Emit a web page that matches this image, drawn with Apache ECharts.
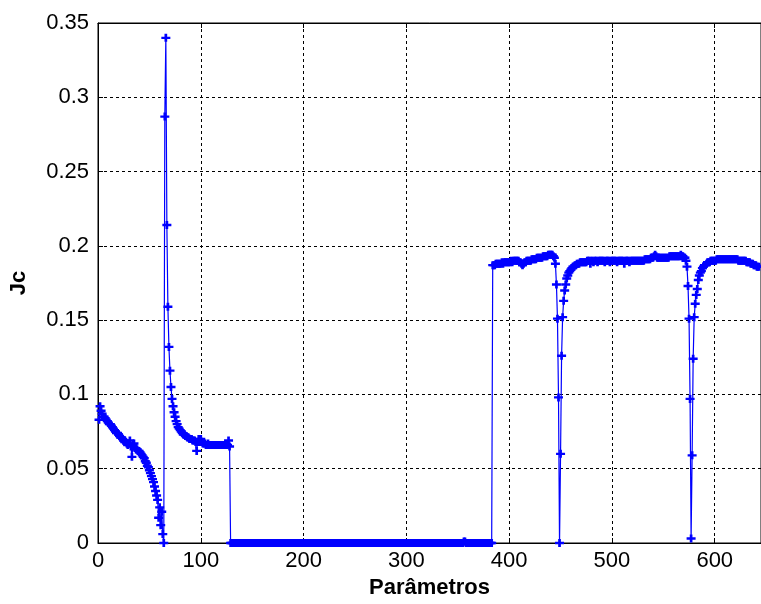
<!DOCTYPE html>
<html>
<head>
<meta charset="utf-8">
<script src="https://cdn.jsdelivr.net/npm/echarts@6/dist/echarts.min.js"></script>
<style>
  html, body { margin: 0; padding: 0; background: #fff; }
  #chart { width: 761px; height: 604px; }
</style>
</head>
<body>
<div id="chart"></div>
<script>
// first parameter index of the series
const xStart = 1;

// x 1..64: slow decay to zero
const jcA = [
  0.083, 0.092, 0.089, 0.087, 0.085, 0.085, 0.084, 0.083, 0.082, 0.081,
  0.080, 0.080, 0.079, 0.078, 0.077, 0.076, 0.075, 0.074, 0.074, 0.073,
  0.072, 0.071, 0.071, 0.070, 0.069, 0.068, 0.068, 0.067, 0.066, 0.067,
  0.069, 0.065, 0.058, 0.066, 0.067, 0.064, 0.063, 0.063, 0.062, 0.062,
  0.061, 0.060, 0.059, 0.058, 0.057, 0.055, 0.054, 0.052, 0.051, 0.049,
  0.047, 0.045, 0.043, 0.041, 0.038, 0.035, 0.032, 0.029, 0.017, 0.024,
  0.012, 0.021, 0.006, 0.000
];

// x 65..129: spike then plateau
const jcB = [
  0.287, 0.340, 0.214, 0.159, 0.132, 0.116, 0.105, 0.097, 0.092, 0.088,
  0.085, 0.082, 0.080, 0.078, 0.077, 0.076, 0.075, 0.074, 0.073, 0.073,
  0.072, 0.072, 0.071, 0.071, 0.070, 0.070, 0.070, 0.069, 0.069, 0.069,
  0.068, 0.062, 0.068, 0.070, 0.068, 0.070, 0.068, 0.067, 0.067, 0.067,
  0.066, 0.066, 0.067, 0.066, 0.066, 0.066, 0.066, 0.066, 0.066, 0.066,
  0.066, 0.066, 0.066, 0.066, 0.066, 0.066, 0.066, 0.066, 0.066, 0.066,
  0.066, 0.066, 0.069, 0.065, 0.000
];

// x 130..383: flat at zero
const jcC = [
  0, 0, 0, 0, 0, 0, 0, 0, 0, 0, 0, 0, 0, 0, 0, 0, 0, 0, 0, 0,
  0, 0, 0, 0, 0, 0, 0, 0, 0, 0, 0, 0, 0, 0, 0, 0, 0, 0, 0, 0,
  0, 0, 0, 0, 0, 0, 0, 0, 0, 0, 0, 0, 0, 0, 0, 0, 0, 0, 0, 0,
  0, 0, 0, 0, 0, 0, 0, 0, 0, 0, 0, 0, 0, 0, 0, 0, 0, 0, 0, 0,
  0, 0, 0, 0, 0, 0, 0, 0, 0, 0, 0, 0, 0, 0, 0, 0, 0, 0, 0, 0,
  0, 0, 0, 0, 0, 0, 0, 0, 0, 0, 0, 0, 0, 0, 0, 0, 0, 0, 0, 0,
  0, 0, 0, 0, 0, 0, 0, 0, 0, 0, 0, 0, 0, 0, 0, 0, 0, 0, 0, 0,
  0, 0, 0, 0, 0, 0, 0, 0, 0, 0, 0, 0, 0, 0, 0, 0, 0, 0, 0, 0,
  0, 0, 0, 0, 0, 0, 0, 0, 0, 0, 0, 0, 0, 0, 0, 0, 0, 0, 0, 0,
  0, 0, 0, 0, 0, 0, 0, 0, 0, 0, 0, 0, 0, 0, 0, 0, 0, 0, 0, 0,
  0, 0, 0, 0, 0, 0, 0, 0, 0, 0, 0, 0, 0, 0, 0, 0, 0, 0, 0, 0,
  0, 0, 0, 0, 0, 0, 0.001, 0.001, 0, 0, 0, 0, 0, 0, 0, 0, 0, 0, 0, 0,
  0, 0, 0, 0, 0, 0, 0, 0, 0, 0, 0, 0, 0, 0
];

// x 384..450: jump up, first dip
const jcD = [
  0.187, 0.187, 0.187, 0.188, 0.188, 0.188, 0.188, 0.188, 0.188, 0.189,
  0.188, 0.189, 0.189, 0.189, 0.189, 0.189, 0.189, 0.189, 0.190, 0.189,
  0.190, 0.190, 0.190, 0.190, 0.190, 0.190, 0.189, 0.189, 0.188, 0.187,
  0.188, 0.189, 0.189, 0.190, 0.190, 0.190, 0.190, 0.190, 0.191, 0.191,
  0.191, 0.191, 0.191, 0.192, 0.192, 0.192, 0.192, 0.192, 0.192, 0.193,
  0.193, 0.193, 0.193, 0.193, 0.194, 0.194, 0.194, 0.194, 0.194, 0.193,
  0.192, 0.188, 0.174, 0.151, 0.098, 0.000, 0.060
];

// x 451..578: recovery, plateau, second dip
const jcE = [
  0.126, 0.152, 0.163, 0.170, 0.174, 0.178, 0.180, 0.182, 0.183, 0.184,
  0.185, 0.186, 0.186, 0.187, 0.187, 0.188, 0.188, 0.188, 0.189, 0.189,
  0.189, 0.189, 0.189, 0.189, 0.189, 0.190, 0.190, 0.190, 0.188, 0.190,
  0.190, 0.189, 0.190, 0.190, 0.190, 0.189, 0.190, 0.190, 0.190, 0.190,
  0.190, 0.190, 0.189, 0.190, 0.190, 0.190, 0.190, 0.189, 0.190, 0.190,
  0.190, 0.190, 0.190, 0.190, 0.189, 0.190, 0.190, 0.190, 0.190, 0.190,
  0.190, 0.188, 0.190, 0.190, 0.190, 0.190, 0.189, 0.190, 0.190, 0.190,
  0.190, 0.190, 0.190, 0.190, 0.190, 0.190, 0.190, 0.190, 0.190, 0.190,
  0.190, 0.191, 0.191, 0.191, 0.191, 0.191, 0.191, 0.192, 0.192, 0.192,
  0.193, 0.194, 0.193, 0.192, 0.192, 0.192, 0.192, 0.192, 0.192, 0.192,
  0.192, 0.192, 0.192, 0.192, 0.192, 0.193, 0.193, 0.193, 0.193, 0.193,
  0.193, 0.193, 0.193, 0.193, 0.193, 0.193, 0.194, 0.193, 0.193, 0.192,
  0.192, 0.190, 0.186, 0.173, 0.151, 0.097, 0.003, 0.059
];

// x 579..643: last recovery
const jcF = [
  0.124, 0.152, 0.161, 0.167, 0.171, 0.177, 0.180, 0.182, 0.183, 0.185,
  0.186, 0.187, 0.187, 0.188, 0.189, 0.189, 0.189, 0.190, 0.190, 0.190,
  0.190, 0.190, 0.190, 0.191, 0.191, 0.191, 0.191, 0.191, 0.191, 0.191,
  0.191, 0.191, 0.191, 0.191, 0.191, 0.191, 0.191, 0.191, 0.191, 0.191,
  0.191, 0.191, 0.191, 0.191, 0.190, 0.190, 0.190, 0.190, 0.190, 0.190,
  0.190, 0.190, 0.189, 0.189, 0.189, 0.189, 0.188, 0.188, 0.188, 0.187,
  0.187, 0.187, 0.186, 0.186, 0.186
];

const jcValues = [].concat(jcA, jcB, jcC, jcD, jcE, jcF);
const jcData = jcValues.map((v, i) => [xStart + i, v]);

const font = "'Liberation Sans', Arial, sans-serif";
const gridDash = { color: "#000", width: 1, type: [3, 3] };
const labelStyle = { fontFamily: font, fontSize: 22, color: "#000" };
const nameStyle = { fontFamily: font, fontSize: 22, fontWeight: "bold", color: "#000" };

const chart = echarts.init(document.getElementById("chart"));
chart.setOption({
  animation: false,
  backgroundColor: "#fff",
  grid: {
    left: 97,
    right: 0,
    top: 23,
    bottom: 60,
    show: true,
    borderColor: "#000",
    borderWidth: 1
  },
  xAxis: [
    {
      type: "value",
      min: 0,
      max: 645,
      interval: 100,
      name: "Parâmetros",
      nameLocation: "middle",
      nameGap: 34,
      nameTextStyle: nameStyle,
      axisLine: { show: true, lineStyle: { color: "#000", width: 1 } },
      axisTick: { show: true, inside: true, length: 5, lineStyle: { color: "#000" } },
      axisLabel: Object.assign({ margin: 7, showMaxLabel: false }, labelStyle),
      splitLine: { show: true, lineStyle: gridDash }
    },
    {
      type: "value",
      position: "top",
      min: 0,
      max: 645,
      interval: 100,
      axisLine: { show: true, lineStyle: { color: "#000", width: 1 } },
      axisTick: { show: true, inside: true, length: 5, lineStyle: { color: "#000" } },
      axisLabel: { show: false },
      splitLine: { show: false }
    }
  ],
  yAxis: {
    type: "value",
    min: 0,
    max: 0.35,
    interval: 0.05,
    name: "Jc",
    nameLocation: "middle",
    nameGap: 68,
    nameTextStyle: nameStyle,
    axisLine: { show: true, lineStyle: { color: "#000", width: 1 } },
    axisTick: { show: true, inside: true, length: 5, lineStyle: { color: "#000" } },
    axisLabel: Object.assign({ margin: 9 }, labelStyle),
    splitLine: { show: true, lineStyle: gridDash }
  },
  series: [
    {
      type: "line",
      data: jcData,
      clip: false,
      // thick '+' marker, as in the original plot
      symbol: "path://M3.5,0 H6.5 V3.5 H10 V6.5 H6.5 V10 H3.5 V6.5 H0 V3.5 H3.5 Z",
      symbolSize: [9, 8],
      itemStyle: { color: "#0000ff", borderWidth: 0 },
      lineStyle: { color: "#0000ff", width: 1.2 },
      emphasis: { disabled: true }
    }
  ]
});
</script>
</body>
</html>
